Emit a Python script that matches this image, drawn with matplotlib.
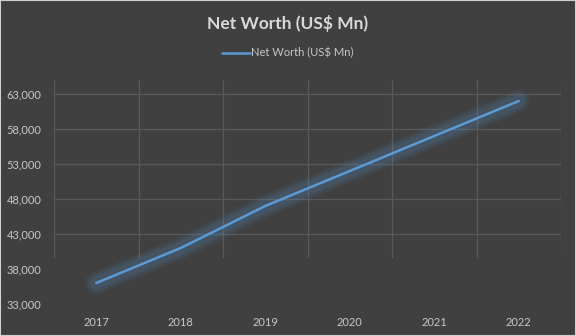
import numpy as np
import matplotlib.pyplot as plt
from matplotlib.patches import Rectangle

# Data
years = ['2017', '2018', '2019', '2020', '2021', '2022']
net_worth = [36000, 41000, 47000, 52000, 57000, 62000]
y_ticks = [33000, 38000, 43000, 48000, 53000, 58000, 63000]
grid_rows = [43000, 48000, 53000, 58000, 63000]

bg = '#404040'
grid_c = '#595959'
text_c = '#c8c8c8'
title_c = '#d9d9d9'
line_c = '#5b9bd5'

plt.rcParams['font.family'] = ['Lato', 'DejaVu Sans']

fig = plt.figure(figsize=(5.76, 3.36), dpi=100, facecolor=bg)
ax = fig.add_axes([54/576, 32/336, 507/576, 224/336], facecolor=bg)

x = np.arange(len(years))
ax.set_xlim(-0.5, len(years) - 0.5)
ax.set_ylim(33000, 65000)

# gridlines (cut off near the bottom like the original)
for v in grid_rows:
    ax.axhline(v, color=grid_c, lw=0.9, zorder=1)
for b in np.arange(-0.5, len(years), 1.0):
    ax.axvline(b, ymin=0.21, ymax=1.0, color=grid_c, lw=0.9, zorder=1)

# soft glow around the line
for lw, a in [(16, 0.07), (12.5, 0.09), (9, 0.10)]:
    ax.plot(x, net_worth, color=line_c, lw=lw, alpha=a,
            solid_capstyle='round', zorder=2)
ax.plot(x, net_worth, color=line_c, lw=1.8, solid_capstyle='round',
        zorder=3, label='Net Worth (US$ Mn)')

ax.set_xticks(x)
ax.set_xticklabels(years)
ax.set_yticks(y_ticks)
ax.set_yticklabels([f'{v:,}' for v in y_ticks])
ax.tick_params(axis='both', length=0, colors=text_c, labelsize=8)
ax.tick_params(axis='y', pad=9)
ax.tick_params(axis='x', pad=9)
for s in ax.spines.values():
    s.set_visible(False)

fig.text(0.5, 1 - 23/336, 'Net Worth (US$ Mn)', ha='center', va='center',
         color=title_c, fontsize=12.5, fontweight='bold')

leg = fig.legend(handles=[ax.lines[-1]], loc='center',
                 bbox_to_anchor=(0.5, 1 - 53/336), frameon=False,
                 fontsize=8, handlelength=2.5, handletextpad=0.1,
                 labelcolor=text_c)

# thin light border around the chart
fig.patches.append(Rectangle((0, 0), 1, 1, transform=fig.transFigure,
                             fill=False, edgecolor='#d0d0d0', lw=1.5))

fig.savefig('out.png', dpi=100, facecolor=bg)
